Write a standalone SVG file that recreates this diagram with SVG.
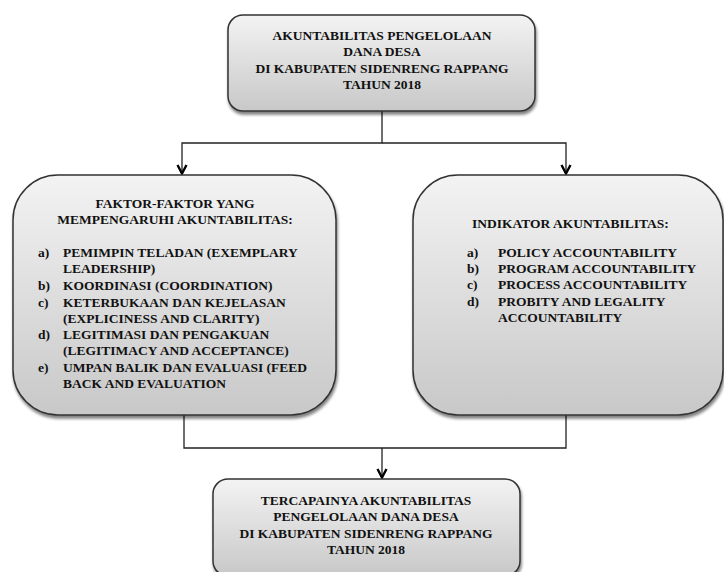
<svg xmlns="http://www.w3.org/2000/svg" width="724" height="572" viewBox="0 0 724 572">
<defs>
<linearGradient id="g" x1="0" y1="0" x2="0" y2="1">
<stop offset="0" stop-color="#f3f3f3"/>
<stop offset="1" stop-color="#c8c8c8"/>
</linearGradient>
<filter id="sh" x="-10%" y="-10%" width="120%" height="130%">
<feGaussianBlur in="SourceAlpha" stdDeviation="1.5"/>
<feOffset dx="1" dy="2.5" result="b"/>
<feComponentTransfer><feFuncA type="linear" slope="0.5"/></feComponentTransfer>
<feMerge><feMergeNode/><feMergeNode in="SourceGraphic"/></feMerge>
</filter>
<marker id="ah" viewBox="0 0 12 12" refX="11" refY="6" markerWidth="12" markerHeight="12" markerUnits="userSpaceOnUse" orient="auto">
<path d="M2,1.5 L10.5,6 L2,10.5" fill="none" stroke="#000" stroke-width="2.4"/>
</marker>
</defs>
<style>
.box{fill:url(#g);stroke:#333;stroke-width:1.5;filter:url(#sh)}
.t{font-family:"Liberation Serif","Times New Roman",serif;font-weight:bold;font-size:13.5px;fill:#111}
.c{text-anchor:middle}
.ln{fill:none;stroke:#222;stroke-width:1.3}
</style>
<g id="connectors">
<path class="ln" d="M382,111 V143 H182 V174" marker-end="url(#ah)"/>
<path class="ln" d="M382,143 H566 V174" marker-end="url(#ah)"/>
<path class="ln" d="M184,415 V448 H566 V415"/>
<path class="ln" d="M382,448 V478" marker-end="url(#ah)"/>
</g>
<g id="top">
<rect class="box" x="228" y="15" width="307" height="96" rx="15"/>
<text class="t c" x="382" y="40">AKUNTABILITAS PENGELOLAAN</text>
<text class="t c" x="382" y="56">DANA DESA</text>
<text class="t c" x="382" y="73">DI KABUPATEN SIDENRENG RAPPANG</text>
<text class="t c" x="382" y="89">TAHUN 2018</text>
</g>
<g id="faktor">
<rect class="box" x="13" y="175" width="323" height="240" rx="45"/>
<text class="t c" x="175" y="208">FAKTOR-FAKTOR YANG</text>
<text class="t c" x="175" y="224">MEMPENGARUHI AKUNTABILITAS:</text>
<text class="t" x="38" y="257">a)</text><text class="t" x="63" y="257">PEMIMPIN TELADAN (EXEMPLARY</text>
<text class="t" x="63" y="273">LEADERSHIP)</text>
<text class="t" x="38" y="290">b)</text><text class="t" x="63" y="290">KOORDINASI (COORDINATION)</text>
<text class="t" x="38" y="307">c)</text><text class="t" x="63" y="307">KETERBUKAAN DAN KEJELASAN</text>
<text class="t" x="63" y="323">(EXPLICINESS AND CLARITY)</text>
<text class="t" x="38" y="339">d)</text><text class="t" x="63" y="339">LEGITIMASI DAN PENGAKUAN</text>
<text class="t" x="63" y="355">(LEGITIMACY AND ACCEPTANCE)</text>
<text class="t" x="38" y="372">e)</text><text class="t" x="63" y="372">UMPAN BALIK DAN EVALUASI (FEED</text>
<text class="t" x="63" y="388">BACK AND EVALUATION</text>
</g>
<g id="indikator">
<rect class="box" x="413" y="175" width="310" height="240" rx="45"/>
<text class="t" x="472" y="228">INDIKATOR AKUNTABILITAS:</text>
<text class="t" x="467" y="257">a)</text><text class="t" x="498" y="257">POLICY ACCOUNTABILITY</text>
<text class="t" x="467" y="273">b)</text><text class="t" x="498" y="273">PROGRAM ACCOUNTABILITY</text>
<text class="t" x="467" y="289">c)</text><text class="t" x="498" y="289">PROCESS ACCOUNTABILITY</text>
<text class="t" x="467" y="306">d)</text><text class="t" x="498" y="306">PROBITY AND LEGALITY</text>
<text class="t" x="498" y="322">ACCOUNTABILITY</text>
</g>
<g id="hasil">
<rect class="box" x="213" y="479" width="307" height="97" rx="15"/>
<text class="t c" x="366" y="505">TERCAPAINYA AKUNTABILITAS</text>
<text class="t c" x="366" y="521">PENGELOLAAN DANA DESA</text>
<text class="t c" x="366" y="538">DI KABUPATEN SIDENRENG RAPPANG</text>
<text class="t c" x="366" y="554">TAHUN 2018</text>
</g>
</svg>
